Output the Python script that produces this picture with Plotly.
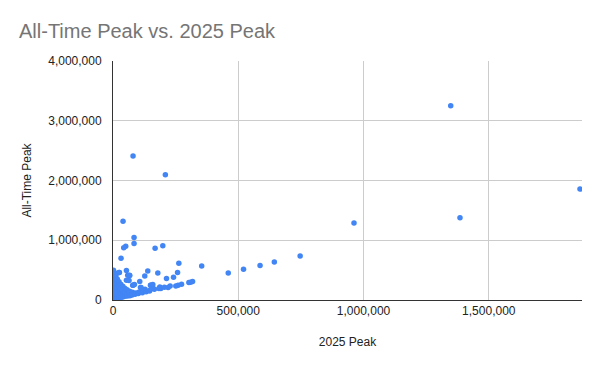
import plotly.graph_objects as go

# 2025 peak (x) and all-time peak (y) player counts
peak_2025 = [
    # outliers / sparse points
    1348000, 1864000, 962000, 1385000, 747000, 644000, 587000, 521000, 460000, 354000,
    80000, 209000, 40000, 84000, 84000, 50800, 42800, 168000, 198800, 32000,
    262800, 53600, 138800, 178800, 257600, 126800, 66800, 14800, 24000, 213600,
    241600, 106800, 53600, 64000, 80000, 150800, 157600, 109600, 186800, 190800,
    220000, 128000, 250800, 260000, 273600, 302800, 309600, 317600, 8000, 58800,
    65600, 25600, 112000, 78800, 85600, 149600, 158800,
    # dense cluster near the origin
    2000, 2500, 1500, 3000, 2200, 1800, 2600, 1200,
    6500, 7000, 6000, 7200, 6800, 5900, 6300,
    11000, 11800, 10500, 12000, 11300, 10800,
    17000, 16500, 17800, 16200, 17400, 18000,
    24000, 23500, 24800, 23000, 25200,
    31000, 30500, 31800, 32500,
    39000, 38400, 40200, 39500,
    47000, 46300, 48100,
    56000, 55200, 57300,
    66000, 65100, 67200,
    77000, 76200,
    89000, 88100,
    102000, 101200,
    116000, 117300,
    131000, 132400,
    147000, 145800,
    165000, 183000, 205000, 228000,
]
all_time_peak = [
    3250000, 1857000, 1287000, 1376000, 738000, 638000, 577000, 515000, 453000, 571000,
    2411000, 2097000, 1320000, 1047000, 946000, 901000, 873000, 867000, 906000, 700000,
    616000, 493000, 487000, 453000, 460000, 403000, 409000, 443000, 460000, 359000,
    381000, 309000, 331000, 325000, 247000, 247000, 230000, 208000, 218000, 191000,
    208000, 180000, 235000, 247000, 263000, 292000, 297000, 309000, 386000, 414000,
    414000, 460000, 208000, 247000, 258000, 247000, 258000,
    498000, 472000, 405000, 330000, 251000, 176000, 98000, 31000,
    438000, 362000, 289000, 214000, 137000, 62000, 12000,
    391000, 318000, 241000, 163000, 88000, 24000,
    352000, 270000, 196000, 121000, 47000, 19000,
    305000, 228000, 150000, 76000, 31000,
    262000, 185000, 108000, 44000,
    231000, 159000, 86000, 52000,
    198000, 127000, 61000,
    172000, 102000, 66000,
    147000, 89000, 71000,
    131000, 84000,
    118000, 96000,
    128000, 108000,
    142000, 121000,
    150000, 136000,
    163000, 152000,
    178000, 192000, 214000, 236000,
]

title_text = "All-Time Peak vs. 2025 Peak"
x_title = "2025 Peak"
y_title = "All-Time Peak"

fig = go.Figure(
    go.Scatter(
        x=peak_2025,
        y=all_time_peak,
        mode="markers",
        marker=dict(color="#4285F4", size=5.5, line=dict(width=0)),
        cliponaxis=True,
        showlegend=False,
    )
)

font_family = "Liberation Sans, Arial, sans-serif"
fig.update_layout(
    width=600,
    height=371,
    margin=dict(l=113, r=18, t=61, b=71, autoexpand=False),
    paper_bgcolor="white",
    plot_bgcolor="white",
    font=dict(family=font_family, size=12, color="#222222"),
    title=dict(
        text=title_text,
        x=19 / 600,
        xanchor="left",
        xref="container",
        y=1 - 31 / 371,
        yanchor="middle",
        yref="container",
        automargin=False,
        font=dict(family=font_family, size=20, color="#757575"),
    ),
)
fig.update_xaxes(
    range=[0, 1872000],
    dtick=500000,
    tick0=0,
    tickformat=",",
    showgrid=True,
    gridcolor="#cccccc",
    gridwidth=1,
    zeroline=False,
    showline=True,
    linecolor="#333333",
    linewidth=1,
    ticks="",
    automargin=False,
    tickfont=dict(size=12, color="#222222"),
    title=dict(text=x_title, font=dict(size=12, color="#222222"), standoff=20),
)
fig.update_yaxes(
    range=[0, 4000000],
    dtick=1000000,
    tick0=0,
    tickformat=",",
    showgrid=True,
    gridcolor="#cccccc",
    gridwidth=1,
    zeroline=False,
    showline=True,
    linecolor="#333333",
    linewidth=1,
    ticks="",
    automargin=False,
    ticklabelstandoff=8,
    tickfont=dict(size=12, color="#222222"),
    title=dict(text=y_title, font=dict(size=12, color="#222222"), standoff=14),
)

fig.write_html(
    "out.html",
    config={"displayModeBar": False},
    post_script="document.body.style.margin='0';document.body.style.overflow='hidden';",
)
